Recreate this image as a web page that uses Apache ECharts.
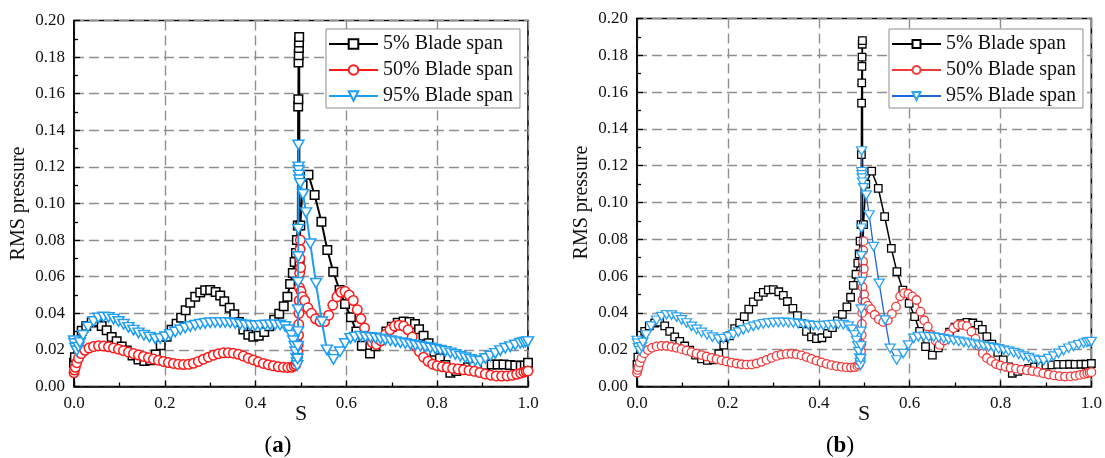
<!DOCTYPE html>
<html>
<head>
<meta charset="utf-8">
<script src="https://cdn.jsdelivr.net/npm/echarts/dist/echarts.min.js"></script>
<style>
html,body{margin:0;padding:0;background:#fff;}
#chart{width:1105px;height:458px;}
</style>
</head>
<body>
<div id="chart"></div>
<script>
// ---- Panel (a): RMS pressure along S ----
const S_A5 = [0.000,0.002,0.007,0.017,0.027,0.039,0.050,0.061,0.072,0.083,
  0.094,0.105,0.116,0.129,0.142,0.155,0.168,0.180,0.191,0.204,
  0.215,0.226,0.236,0.246,0.256,0.267,0.278,0.289,0.300,0.312,
  0.322,0.331,0.343,0.353,0.363,0.373,0.384,0.395,0.407,0.419,
  0.430,0.441,0.452,0.462,0.470,0.476,0.482,0.486,0.489,0.491,
  0.493,0.4938,0.4942,0.4946,0.4950,0.4953,0.4956,0.4960,0.4968,0.4985,
  0.5035,0.5165,0.530,0.545,0.558,0.571,0.585,0.597,0.610,0.622,
  0.634,0.652,0.664,0.676,0.688,0.700,0.713,0.726,0.739,0.751,
  0.760,0.770,0.781,0.794,0.806,0.818,0.829,0.842,0.855,0.868,
  0.880,0.893,0.906,0.920,0.933,0.946,0.960,0.972,0.984,0.993,1.000];
const V_A5 = [0.013,0.016,0.023,0.0305,0.033,0.035,0.0355,0.033,0.0307,0.027,
  0.0247,0.0219,0.0197,0.017,0.0148,0.014,0.0143,0.0175,0.0225,0.0272,
  0.031,0.0343,0.0376,0.0416,0.0457,0.049,0.0513,0.0526,0.0528,0.0517,
  0.0497,0.0466,0.0431,0.0395,0.0353,0.0312,0.0283,0.0272,0.0278,0.0298,
  0.0329,0.0365,0.0398,0.0438,0.049,0.056,0.062,0.068,0.073,0.080,
  0.088,0.153,0.157,0.177,0.181,0.185,0.188,0.191,0.067,0.088,
  0.110,0.1157,0.1046,0.0900,0.0746,0.0627,0.0527,0.0451,0.0378,0.030,
  0.0223,0.018,0.022,0.0263,0.030,0.0327,0.0349,0.0355,0.0352,0.0342,
  0.0313,0.0277,0.0236,0.019,0.0154,0.0118,0.0075,0.0085,0.0095,0.0105,
  0.011,0.0115,0.0117,0.012,0.012,0.012,0.0118,0.0115,0.0113,0.0115,0.013];

const S_A50 = [0.000,0.001,0.003,0.006,0.010,0.016,0.024,0.033,0.043,0.054,
  0.065,0.076,0.087,0.098,0.109,0.120,0.131,0.142,0.153,0.164,
  0.175,0.186,0.197,0.208,0.219,0.230,0.241,0.252,0.263,0.274,
  0.285,0.296,0.307,0.318,0.329,0.340,0.351,0.362,0.373,0.384,
  0.395,0.406,0.417,0.428,0.439,0.450,0.461,0.471,0.479,0.485,
  0.4885,0.4905,0.4920,0.4930,0.4938,0.4945,0.4950,0.4955,0.4960,0.4965,
  0.4970,0.4975,0.4980,0.4985,0.4992,0.500,0.503,0.508,0.515,0.523,
  0.532,0.542,0.552,0.561,0.570,0.579,0.588,0.597,0.606,0.615,
  0.624,0.632,0.640,0.648,0.657,0.666,0.676,0.686,0.696,0.706,
  0.716,0.726,0.736,0.745,0.753,0.761,0.770,0.780,0.790,0.800,
  0.811,0.822,0.834,0.846,0.858,0.870,0.882,0.894,0.906,0.918,
  0.930,0.942,0.954,0.965,0.975,0.984,0.991,0.996,1.000];
const V_A50 = [0.0075,0.009,0.0105,0.013,0.0155,0.018,0.0198,0.021,0.0218,0.0222,
  0.0221,0.0217,0.0211,0.0204,0.0196,0.0188,0.018,0.0172,0.0164,0.0157,
  0.015,0.0143,0.0137,0.0131,0.0126,0.0122,0.012,0.0121,0.0127,0.0137,
  0.0149,0.016,0.0171,0.0179,0.0184,0.0185,0.0182,0.0176,0.0166,0.0155,
  0.0145,0.0135,0.0126,0.0119,0.0113,0.0108,0.0105,0.0104,0.0105,0.0112,
  0.012,0.0135,0.016,0.019,0.023,0.028,0.034,0.040,0.047,0.054,
  0.062,0.070,0.075,0.080,0.065,0.052,0.049,0.047,0.043,0.040,
  0.037,0.0355,0.0355,0.039,0.0445,0.049,0.0515,0.052,0.050,0.047,
  0.042,0.037,0.032,0.027,0.024,0.023,0.025,0.0285,0.031,0.033,
  0.0335,0.033,0.031,0.027,0.022,0.019,0.016,0.0138,0.0122,0.0114,
  0.0108,0.0104,0.0099,0.0095,0.0091,0.0088,0.0083,0.0076,0.0068,0.0062,
  0.0058,0.0057,0.0058,0.0061,0.0067,0.0073,0.0078,0.0082,0.0085];

const S_A95 = [0.000,0.001,0.003,0.006,0.010,0.013,0.020,0.031,0.043,0.054,
  0.065,0.076,0.087,0.098,0.109,0.120,0.131,0.142,0.154,0.166,
  0.179,0.190,0.201,0.212,0.223,0.234,0.245,0.256,0.267,0.278,
  0.289,0.300,0.311,0.322,0.333,0.344,0.355,0.366,0.377,0.388,
  0.399,0.410,0.421,0.432,0.443,0.454,0.465,0.473,0.479,0.483,
  0.486,0.488,0.490,0.491,0.4918,0.4925,0.4930,0.4933,0.4935,0.4937,
  0.4939,0.4941,0.4943,0.4946,0.4950,0.4955,0.4962,0.4985,0.5045,0.511,
  0.5205,0.533,0.546,0.557,0.5715,0.586,0.597,0.609,0.619,0.631,
  0.642,0.653,0.664,0.675,0.686,0.697,0.708,0.719,0.730,0.741,
  0.752,0.763,0.774,0.785,0.796,0.807,0.818,0.829,0.840,0.851,
  0.862,0.873,0.884,0.895,0.906,0.917,0.928,0.939,0.950,0.961,
  0.972,0.983,0.990,0.995,1.000];
const V_A95 = [0.025,0.0235,0.021,0.0195,0.0215,0.024,0.028,0.0325,0.0355,0.0375,
  0.038,0.0378,0.0368,0.0355,0.034,0.0323,0.0308,0.0293,0.028,0.027,
  0.026,0.0262,0.0272,0.0285,0.0298,0.031,0.032,0.0328,0.0335,0.034,
  0.0345,0.0348,0.035,0.035,0.035,0.0348,0.0344,0.034,0.0336,0.0333,
  0.0332,0.0333,0.0336,0.0337,0.0337,0.0336,0.0328,0.031,0.028,0.025,
  0.022,0.019,0.0155,0.013,0.0115,0.015,0.022,0.030,0.042,0.057,
  0.071,0.086,0.132,0.120,0.118,0.1155,0.113,0.111,0.105,0.095,
  0.078,0.0564,0.0354,0.020,0.0148,0.019,0.0235,0.0263,0.027,0.0275,
  0.027,0.0268,0.0265,0.026,0.0255,0.025,0.0245,0.024,0.0235,0.023,
  0.0225,0.022,0.0215,0.021,0.0204,0.0198,0.0192,0.0184,0.0175,0.0165,
  0.0157,0.0148,0.0141,0.0138,0.0153,0.0166,0.0181,0.0196,0.0209,0.0218,
  0.0227,0.0236,0.024,0.0243,0.0245];

// ---- Panel (b) ----
const S_B5 = [0.000,0.002,0.007,0.017,0.027,0.039,0.050,0.061,0.072,0.083,
  0.094,0.105,0.116,0.129,0.142,0.155,0.168,0.180,0.191,0.204,
  0.215,0.226,0.236,0.246,0.256,0.267,0.278,0.289,0.300,0.312,
  0.322,0.331,0.343,0.353,0.363,0.373,0.384,0.395,0.407,0.419,
  0.430,0.441,0.452,0.462,0.470,0.476,0.482,0.486,0.489,0.491,
  0.493,0.4938,0.4942,0.4946,0.4950,0.4953,0.4956,0.4960,0.4968,0.4985,
  0.5035,0.5165,0.531,0.545,0.5597,0.572,0.585,0.599,0.611,0.622,
  0.635,0.650,0.663,0.676,0.688,0.700,0.713,0.726,0.739,0.751,
  0.760,0.770,0.781,0.794,0.806,0.818,0.826,0.838,0.850,0.862,
  0.875,0.888,0.900,0.913,0.926,0.939,0.952,0.964,0.977,0.988,1.000];
const V_B5 = [0.012,0.016,0.023,0.030,0.033,0.0345,0.035,0.033,0.030,0.027,
  0.0245,0.022,0.0197,0.017,0.015,0.0142,0.0145,0.0178,0.0225,0.0275,
  0.0315,0.0345,0.038,0.042,0.046,0.049,0.0512,0.0525,0.0527,0.0515,
  0.0495,0.0462,0.0425,0.0385,0.0342,0.030,0.027,0.026,0.0265,0.0288,
  0.032,0.0357,0.0392,0.0433,0.0485,0.055,0.061,0.067,0.072,0.079,
  0.088,0.126,0.154,0.165,0.174,0.179,0.186,0.188,0.067,0.088,
  0.110,0.117,0.1077,0.0923,0.0751,0.0624,0.0524,0.0452,0.038,0.030,
  0.0217,0.0171,0.021,0.026,0.0295,0.0322,0.0342,0.0348,0.0345,0.0334,
  0.031,0.0271,0.023,0.0185,0.0145,0.0107,0.0072,0.0082,0.009,0.0098,
  0.0106,0.0112,0.0116,0.0118,0.012,0.012,0.0121,0.012,0.0121,0.0121,0.0125];

const S_B50 = S_A50.slice();
const V_B50 = [0.0075,0.009,0.0105,0.013,0.0155,0.018,0.0198,0.021,0.0218,0.0221,
  0.022,0.0216,0.021,0.0203,0.0195,0.0187,0.0179,0.0171,0.0163,0.0156,
  0.0149,0.0142,0.0136,0.013,0.0125,0.0121,0.0119,0.012,0.0125,0.0134,
  0.0145,0.0156,0.0166,0.0173,0.0177,0.0178,0.0175,0.0169,0.016,0.015,
  0.014,0.0131,0.0123,0.0116,0.0111,0.0107,0.0104,0.0103,0.0105,0.0112,
  0.012,0.0135,0.016,0.019,0.023,0.028,0.034,0.040,0.047,0.054,
  0.061,0.068,0.074,0.079,0.064,0.050,0.046,0.044,0.042,0.039,
  0.0365,0.035,0.036,0.0395,0.0434,0.049,0.0507,0.0504,0.049,0.047,
  0.0407,0.036,0.0325,0.028,0.025,0.0226,0.025,0.0285,0.0316,0.0334,
  0.0334,0.0328,0.0298,0.026,0.022,0.018,0.0155,0.0138,0.0122,0.0114,
  0.0107,0.0102,0.0097,0.0092,0.0088,0.0084,0.0079,0.0072,0.0065,0.006,
  0.0056,0.0054,0.0055,0.0058,0.0063,0.0068,0.0072,0.0075,0.0078];

const S_B95 = S_A95.slice();
const V_B95 = [0.025,0.0235,0.021,0.0195,0.0215,0.024,0.028,0.0328,0.036,0.038,
  0.039,0.0388,0.0377,0.0362,0.0345,0.0327,0.031,0.0294,0.028,0.0268,
  0.0258,0.026,0.027,0.0283,0.0296,0.0308,0.0318,0.0327,0.0334,0.034,
  0.0344,0.0347,0.0348,0.0348,0.0347,0.0345,0.0342,0.0338,0.0334,0.0331,
  0.033,0.0331,0.0334,0.0336,0.0337,0.0336,0.0328,0.031,0.028,0.025,
  0.022,0.019,0.0155,0.013,0.0115,0.015,0.022,0.030,0.042,0.057,
  0.071,0.086,0.128,0.1167,0.115,0.1133,0.111,0.108,0.104,0.0932,
  0.076,0.056,0.0361,0.0207,0.0144,0.0179,0.0225,0.0262,0.027,0.0272,
  0.027,0.0268,0.0265,0.026,0.0255,0.025,0.0245,0.024,0.0235,0.023,
  0.0225,0.022,0.0215,0.021,0.0204,0.0198,0.0192,0.0184,0.0175,0.0165,
  0.0157,0.0148,0.0142,0.014,0.0152,0.0165,0.018,0.0195,0.0208,0.0218,
  0.0227,0.0235,0.024,0.0242,0.0244];

const NAMES = ['5% Blade span', '50% Blade span', '95% Blade span'];
const X_TICKS = [0, 0.2, 0.4, 0.6, 0.8, 1.0];
const Y_MAX = 0.20;

const FONT = '"Liberation Serif", "Times New Roman", serif';
const DOWN_TRI = 'path://M0,0L2,0L1,1.7Z';
const pair = (s, v) => s.map((x, i) => [x, v[i]]);

function xAxisFor(i) {
  return {
    gridIndex: i, type: 'value', min: X_TICKS[0], max: X_TICKS[X_TICKS.length - 1], interval: 0.2,
    axisLine: { show: true, onZero: false, lineStyle: { color: '#000', width: 1.6 } },
    axisTick: { show: true, inside: true, length: 6, lineStyle: { color: '#000', width: 1.3 } },
    minorTick: { show: true, splitNumber: 2, length: 4, lineStyle: { color: '#000', width: 1.3 } },
    splitLine: { show: true, lineStyle: { color: '#8f8f8f', width: 1.4, type: [10, 5] } },
    axisLabel: { fontFamily: FONT, fontSize: 17, color: '#111', margin: 9, formatter: v => v.toFixed(1) },
    name: 'S', nameLocation: 'middle', nameGap: 17, nameMoveOverlap: false,
    nameTextStyle: { fontFamily: FONT, fontSize: 22, color: '#111' }
  };
}
function yAxisFor(i) {
  return {
    gridIndex: i, type: 'value', min: 0, max: Y_MAX, interval: 0.02,
    axisLine: { show: true, lineStyle: { color: '#000', width: 1.6 } },
    axisTick: { show: true, inside: true, length: 6, lineStyle: { color: '#000', width: 1.3 } },
    minorTick: { show: true, splitNumber: 2, length: 4, lineStyle: { color: '#000', width: 1.3 } },
    splitLine: { show: true, lineStyle: { color: '#8f8f8f', width: 1.4, type: [10, 5] } },
    axisLabel: { fontFamily: FONT, fontSize: 17, color: '#111', margin: 9, formatter: v => v.toFixed(2) },
    name: 'RMS pressure', nameLocation: 'middle', nameGap: 45, nameMoveOverlap: false,
    nameTextStyle: { fontFamily: FONT, fontSize: 20, color: '#111' }
  };
}

function lineSeries(name, i, data, sty) {
  return {
    type: 'line', name: name, xAxisIndex: i, yAxisIndex: i, data: data,
    symbol: sty.symbol, symbolSize: sty.size, showSymbol: true, clip: false,
    lineStyle: { color: sty.line, width: sty.lw },
    itemStyle: { color: '#fff', borderColor: sty.mark, borderWidth: sty.bw },
    emphasis: { disabled: true }, animation: false, z: sty.z
  };
}

// panel (a): heavier lines, panel (b): thinner lines
const STY_A = [
  { symbol: 'rect', size: 8.5, line: '#000', mark: '#000', lw: 2, bw: 1.5, z: 2 },
  { symbol: 'circle', size: 9.5, line: '#ff1a1a', mark: '#ff1a1a', lw: 2, bw: 1.5, z: 3 },
  { symbol: DOWN_TRI, size: [11, 9.5], line: '#1e9df5', mark: '#1e9df5', lw: 2, bw: 1.5, z: 4 }
];
const STY_B = [
  { symbol: 'rect', size: 7.5, line: '#000', mark: '#000', lw: 1.5, bw: 1.3, z: 2 },
  { symbol: 'circle', size: 8.5, line: '#f23a3a', mark: '#f23a3a', lw: 1.3, bw: 1.3, z: 3 },
  { symbol: DOWN_TRI, size: [10, 8.5], line: '#1f66dc', mark: '#2ba2f2', lw: 1.3, bw: 1.3, z: 4 }
];
const B_NAMES = NAMES.map(n => 'b|' + n);

function legendFor(left, names, ih, ig) {
  return {
    orient: 'vertical', left: left, top: 29, data: names,
    itemWidth: 49, itemHeight: ih, itemGap: ig,
    padding: [5, 7, 2, 2],
    backgroundColor: '#fff', borderColor: '#8c8c8c', borderWidth: 1,
    selectedMode: false,
    formatter: n => n.split('|').pop(),
    textStyle: { fontFamily: FONT, fontSize: 20, color: '#111' }
  };
}

const chart = echarts.init(document.getElementById('chart'), null, { renderer: 'canvas' });
chart.setOption({
  backgroundColor: '#fff',
  animation: false,
  grid: [
    { left: 74, top: 20.5, width: 454, height: 366, show: true, borderColor: '#000', borderWidth: 1.6, backgroundColor: 'transparent' },
    { left: 637, top: 18.5, width: 455, height: 368, show: true, borderColor: '#000', borderWidth: 1.6, backgroundColor: 'transparent' }
  ],
  xAxis: [xAxisFor(0), xAxisFor(1)],
  yAxis: [yAxisFor(0), yAxisFor(1)],
  legend: [legendFor(326, NAMES, 12, 6), legendFor(889, B_NAMES, 10, 6)],
  series: [
    lineSeries(NAMES[0], 0, pair(S_A5, V_A5), STY_A[0]),
    lineSeries(NAMES[1], 0, pair(S_A50, V_A50), STY_A[1]),
    lineSeries(NAMES[2], 0, pair(S_A95, V_A95), STY_A[2]),
    lineSeries(B_NAMES[0], 1, pair(S_B5, V_B5), STY_B[0]),
    lineSeries(B_NAMES[1], 1, pair(S_B50, V_B50), STY_B[1]),
    lineSeries(B_NAMES[2], 1, pair(S_B95, V_B95), STY_B[2])
  ],
  graphic: [
    { type: 'text', x: 278, y: 446, style: { text: '{p|(}{b|a}{p|)}', align: 'center', verticalAlign: 'middle',
      rich: { p: { fontFamily: FONT, fontSize: 23, fill: '#000' }, b: { fontFamily: FONT, fontSize: 23, fontWeight: 'bold', fill: '#000' } } } },
    { type: 'text', x: 840, y: 446, style: { text: '{p|(}{b|b}{p|)}', align: 'center', verticalAlign: 'middle',
      rich: { p: { fontFamily: FONT, fontSize: 23, fill: '#000' }, b: { fontFamily: FONT, fontSize: 23, fontWeight: 'bold', fill: '#000' } } } }
  ]
});
</script>
</body>
</html>
